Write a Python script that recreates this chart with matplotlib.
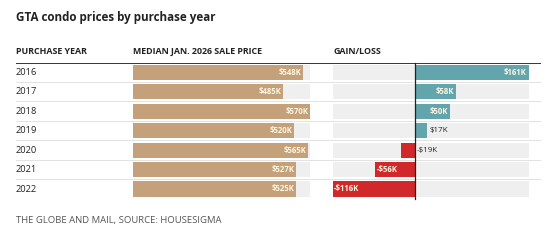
import matplotlib.pyplot as plt
import numpy as np

W, H = 553, 241

YEARS  = ["2016", "2017", "2018", "2019", "2020", "2021", "2022"]
PRICES = [548, 485, 570, 520, 565, 527, 525]          # $K, median Jan. 2026 sale price
GAINS  = [161, 58, 50, 17, -19, -56, -116]            # $K, gain/loss
PRICE_LABELS = ["$548K", "$485K", "$570K", "$520K", "$565K", "$527K", "$525K"]
GAIN_LABELS  = ["$161K", "$58K", "$50K", "$17K", "-$19K", "-$56K", "-$116K"]

TAN   = "#c4a17a"
TEAL  = "#62a5ad"
RED   = "#d0282b"
TRACK = "#efefef"
LABEL = "#fff6e0"

FONT = "Open Sans"

# row geometry in pixels
ROW0, ROW_STEP = 72.3, 19.45
N = len(YEARS)
top_px = ROW0 - ROW_STEP / 2
bot_px = ROW0 + ROW_STEP * (N - 1) + ROW_STEP / 2


def add_axes_px(x0, x1):
    ax = fig.add_axes([x0 / W, 1 - bot_px / H, (x1 - x0) / W, (bot_px - top_px) / H])
    ax.set_ylim(N - 0.5, -0.5)
    ax.axis("off")
    ax.patch.set_alpha(0)
    return ax


fig = plt.figure(figsize=(W / 100, H / 100), dpi=100)
fig.patch.set_facecolor("white")

y = np.arange(N)
bar_h = 0.78

# table lines
grid = add_axes_px(16, 541)
grid.set_xlim(0, 1)
grid.axhline(-0.5, color="black", lw=1.1)
for i in range(N - 1):
    grid.axhline(i + 0.5, color="#e2e2e2", lw=0.7)

# price bars
ax_p = add_axes_px(133, 309.5)
ax_p.set_xlim(0, max(PRICES))
ax_p.barh(y, [max(PRICES)] * N, height=bar_h, color=TRACK, zorder=1)
ax_p.barh(y, PRICES, height=bar_h, color=TAN, zorder=2)
for i, (v, lab) in enumerate(zip(PRICES, PRICE_LABELS)):
    ax_p.text(v - 4, i, lab, ha="right", va="center", color=LABEL,
              fontsize=5.6, fontweight="bold", family=FONT, zorder=3)

# gain / loss bars
gmin, gmax = min(GAINS), max(GAINS)
ax_g = add_axes_px(332.7, 529)
ax_g.set_xlim(gmin, gmax)
ax_g.barh(y, [gmax - gmin] * N, left=gmin, height=bar_h, color=TRACK, zorder=1)
ax_g.barh(y, GAINS, height=bar_h,
          color=[TEAL if g >= 0 else RED for g in GAINS], zorder=2)
ax_g.plot([0, 0], [-0.5, N - 0.5], color="#222222", lw=0.9, zorder=4,
          clip_on=False)
for i, (v, lab) in enumerate(zip(GAINS, GAIN_LABELS)):
    if abs(v) >= 40:
        if v > 0:
            ax_g.text(v - 3, i, lab, ha="right", va="center", color=LABEL,
                      fontsize=5.6, fontweight="bold", family=FONT, zorder=3)
        else:
            ax_g.text(v + 2, i, lab, ha="left", va="center", color=LABEL,
                      fontsize=5.6, fontweight="bold", family=FONT, zorder=3)
    else:
        ax_g.text(max(v, 0) + 3, i, lab, ha="left", va="center", color="#222222",
                  fontsize=5.8, family=FONT, zorder=3)

# text
fig.text(16 / W, 1 - 17 / H, "GTA condo prices by purchase year", ha="left",
         va="center", fontsize=8.4, fontweight="bold", family=FONT, color="#222222")
for x, s in [(16, "PURCHASE YEAR"), (133, "MEDIAN JAN. 2026 SALE PRICE"),
             (333, "GAIN/LOSS")]:
    fig.text(x / W, 1 - 52 / H, s, ha="left", va="center", fontsize=6.4,
             fontweight="bold", family=FONT, color="#222222")
for i, yr in enumerate(YEARS):
    fig.text(16 / W, 1 - (ROW0 + ROW_STEP * i) / H, yr, ha="left", va="center",
             fontsize=6.7, family=FONT, color="#222222")
fig.text(16 / W, 1 - 221 / H, "THE GLOBE AND MAIL, SOURCE: HOUSESIGMA",
         ha="left", va="center", fontsize=6.8, family=FONT, color="#555555")

fig.savefig("out.png", dpi=100)
